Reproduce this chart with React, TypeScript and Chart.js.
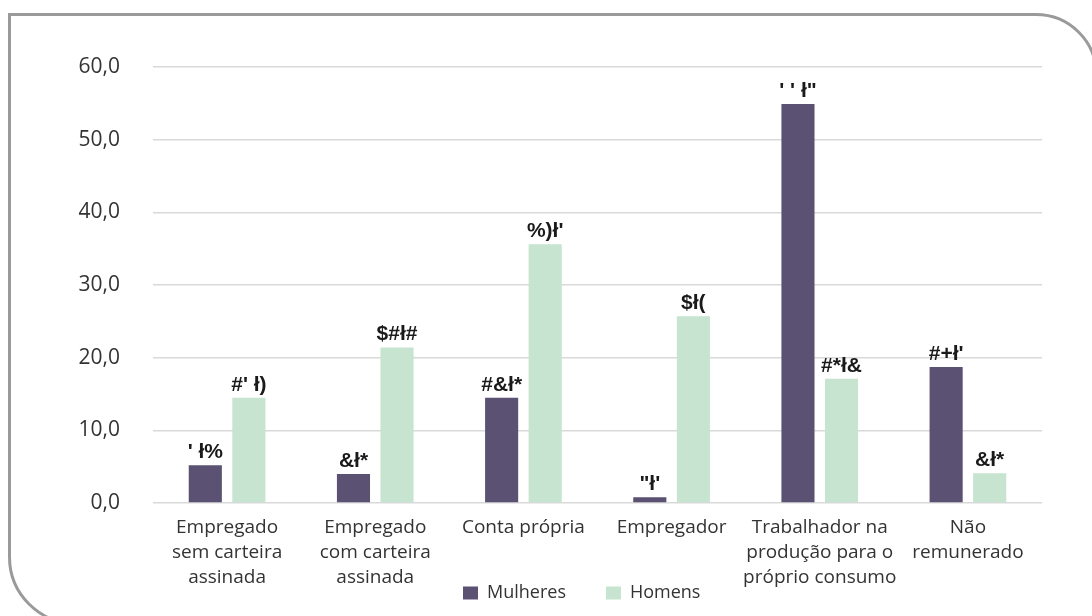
import React, { useEffect, useRef } from "react";
import { Chart, registerables } from "chart.js";

Chart.register(...registerables);

const categories: string[][] = [
  ["Empregado", "sem carteira", "assinada"],
  ["Empregado", "com carteira", "assinada"],
  ["Conta própria"],
  ["Empregador"],
  ["Trabalhador na", "produção para o", "próprio consumo"],
  ["Não", "remunerado"],
];
const mulheres = [5.2, 4.0, 14.5, 0.8, 54.9, 18.7];
const homens = [14.5, 21.4, 35.6, 25.7, 17.1, 4.1];
const mulheresLabels = ["' ł%", "&ł*", "#&ł*", "\"ł'", "' ' ł\"", "#+ł'"];
const homensLabels = ["#' ł)", "$#ł#", "%)ł'", "$ł(", "#*ł&", "&ł*"];
const yTicks = [0, 10, 20, 30, 40, 50, 60];

const MULHERES_COLOR = "#5a5173";
const HOMENS_COLOR = "#c6e4cf";
const TEXT_COLOR = "#333333";

const labelPlugin = {
  id: "barValueLabels",
  afterDatasetsDraw(chart: any) {
    const ctx = chart.ctx;
    const sets = [mulheresLabels, homensLabels];
    ctx.save();
    ctx.font = "bold 21px 'Liberation Sans', Arial, sans-serif";
    ctx.fillStyle = "#1a1a1a";
    ctx.textAlign = "center";
    ctx.textBaseline = "alphabetic";
    chart.data.datasets.forEach((_: any, di: number) => {
      const meta = chart.getDatasetMeta(di);
      meta.data.forEach((bar: any, i: number) => {
        ctx.fillText(sets[di][i], bar.x, bar.y - 7);
      });
    });
    ctx.restore();
  },
};

// place the legend box (Chart.js lays it out below the axis; here it is moved up into the label band)
const legendPlacePlugin = {
  id: "legendPlace",
  afterLayout(chart: any) {
    const lg = chart.legend;
    if (!lg) return;
    lg.top = 544;
    lg.height = 70;
    lg.bottom = 614;
    lg.left = 423;
    lg.right = 1092;
    lg.width = lg.right - lg.left;
  },
};

export default function App() {
  const ref = useRef<HTMLCanvasElement>(null);

  useEffect(() => {
    if (!ref.current) return;
    const chart = new Chart(ref.current, {
      type: "bar",
      data: {
        labels: categories,
        datasets: [
          {
            label: "Mulheres",
            data: mulheres,
            backgroundColor: MULHERES_COLOR,
            categoryPercentage: 0.588,
            barPercentage: 0.76,
          },
          {
            label: "Homens",
            data: homens,
            backgroundColor: HOMENS_COLOR,
            categoryPercentage: 0.588,
            barPercentage: 0.76,
          },
        ],
      },
      options: {
        animation: false,
        responsive: false,
        maintainAspectRatio: false,
        layout: { padding: { top: 67, left: 0, right: 50, bottom: 12 } },
        plugins: {
          tooltip: { enabled: false },
          legend: {
            position: "bottom",
            align: "start",
            maxHeight: 1,
            labels: {
              boxWidth: 15,
              boxHeight: 13,
              padding: 40,
              color: TEXT_COLOR,
              font: { family: "'Open Sans', sans-serif", size: 18 },
            },
          } as any,
        },
        scales: {
          x: {
            grid: { display: false },
            border: { display: false },
            ticks: {
              color: TEXT_COLOR,
              padding: 4,
              maxRotation: 0,
              autoSkip: false,
              font: { family: "'Open Sans', sans-serif", size: 19, lineHeight: 25 / 19 },
            },
            afterFit: (scale: any) => {
              scale.height = 100;
            },
          },
          y: {
            min: 0,
            max: 60,
            afterBuildTicks: (scale: any) => {
              scale.ticks = yTicks.map((v) => ({ value: v }));
            },
            grid: { color: "#d9d9d9", lineWidth: 1.5, drawTicks: false },
            border: { display: false },
            ticks: {
              color: TEXT_COLOR,
              padding: 33,
              font: { family: "'Open Sans', sans-serif", size: 21 },
              callback: (v: any) => Number(v).toFixed(1).replace(".", ","),
            },
            afterFit: (scale: any) => {
              scale.width = 153;
            },
          },
        },
      },
      plugins: [labelPlugin, legendPlacePlugin],
    });
    return () => chart.destroy();
  }, []);

  return (
    <div style={{ position: "fixed", left: 0, top: 0, width: 1092, height: 616, overflow: "hidden", background: "#fff" }}>
      <canvas ref={ref} width={1092} height={616} style={{ position: "absolute", left: 0, top: 0 }} />
      <div
        style={{
          position: "absolute",
          left: 8,
          top: 13,
          width: 1090,
          height: 612,
          boxSizing: "border-box",
          border: "3px solid #9a9a9a",
          borderTopRightRadius: 62,
          borderBottomLeftRadius: 68,
          pointerEvents: "none",
        }}
      />
    </div>
  );
}
